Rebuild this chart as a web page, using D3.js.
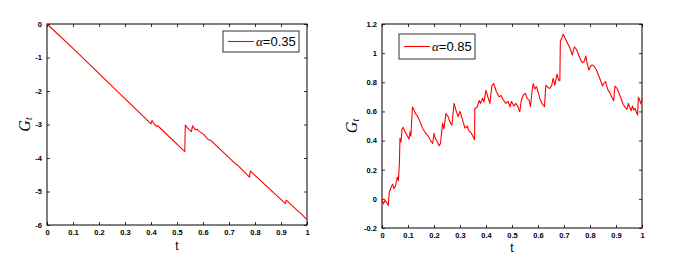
<!DOCTYPE html>
<html><head><meta charset="utf-8">
<script src="https://cdn.jsdelivr.net/npm/d3@7"></script>
<style>body{margin:0;background:#fff}svg{display:block}</style>
</head><body>
<svg id="c" width="674" height="259"></svg>
<script>
const xTicks = [0,0.1,0.2,0.3,0.4,0.5,0.6,0.7,0.8,0.9,1];
const yTicksLeft = [0,-1,-2,-3,-4,-5,-6];
const yTicksRight = [-0.2,0,0.2,0.4,0.6,0.8,1,1.2];
const legendLeft = "0.35";
const legendRight = "0.85";

const tLeft = [0,0.1,0.104,0.4,0.404,0.413,0.423,0.427,0.433,0.53,0.532,0.541,0.555,0.56,0.571,0.577,0.583,0.605,0.618,0.631,0.724,0.733,0.779,0.782,0.917,0.92,0.968,0.974,1.0];
const gLeft = [0,-0.725,-0.755,-2.98,-2.88,-3.0,-3.06,-3.04,-3.09,-3.81,-3.02,-3.11,-3.21,-3.04,-3.16,-3.14,-3.19,-3.31,-3.44,-3.48,-4.17,-4.21,-4.57,-4.39,-5.36,-5.26,-5.6,-5.64,-5.84];

const tRight = [0,0.005,0.0115,0.018,0.024,0.028,0.035,0.041,0.046,0.052,0.059,0.063,0.067,0.069,0.073,0.077,0.082,0.088,0.095,0.104,0.108,0.111,0.117,0.123,0.127,0.136,0.146,0.156,0.168,0.178,0.187,0.195,0.2,0.205,0.213,0.22,0.225,0.233,0.238,0.246,0.254,0.261,0.269,0.277,0.284,0.293,0.3,0.31,0.319,0.328,0.333,0.344,0.356,0.357,0.366,0.374,0.379,0.387,0.392,0.4,0.407,0.415,0.423,0.43,0.44,0.451,0.458,0.466,0.476,0.485,0.492,0.498,0.507,0.515,0.524,0.53,0.535,0.543,0.551,0.558,0.566,0.571,0.576,0.581,0.588,0.594,0.602,0.609,0.617,0.625,0.63,0.638,0.645,0.653,0.658,0.665,0.673,0.679,0.684,0.686,0.691,0.697,0.703,0.709,0.717,0.725,0.732,0.74,0.748,0.755,0.763,0.771,0.777,0.784,0.789,0.796,0.802,0.809,0.817,0.825,0.832,0.84,0.848,0.853,0.86,0.868,0.876,0.883,0.891,0.896,0.904,0.912,0.919,0.927,0.935,0.942,0.948,0.953,0.958,0.963,0.968,0.973,0.978,0.983,0.986,0.991,0.996,1.0];
const gRight = [0,-0.035,-0.01,-0.025,-0.045,0.045,0.08,0.1,0.07,0.09,0.15,0.125,0.245,0.415,0.39,0.48,0.49,0.46,0.44,0.41,0.46,0.43,0.63,0.61,0.59,0.57,0.53,0.485,0.45,0.43,0.4,0.38,0.45,0.415,0.39,0.365,0.38,0.52,0.48,0.585,0.565,0.53,0.505,0.655,0.61,0.565,0.6,0.54,0.485,0.5,0.47,0.45,0.405,0.62,0.63,0.675,0.655,0.69,0.665,0.745,0.7,0.655,0.78,0.79,0.735,0.7,0.71,0.68,0.655,0.668,0.632,0.668,0.637,0.655,0.628,0.598,0.668,0.713,0.724,0.69,0.678,0.632,0.72,0.79,0.754,0.77,0.724,0.678,0.65,0.633,0.78,0.765,0.758,0.78,0.827,0.78,0.857,0.816,0.81,1.085,1.1,1.13,1.108,1.085,1.056,1.025,0.987,1.044,1.025,0.994,0.957,0.935,0.941,0.98,0.93,0.884,0.912,0.919,0.907,0.884,0.85,0.816,0.774,0.793,0.804,0.752,0.729,0.7,0.674,0.774,0.758,0.724,0.69,0.651,0.628,0.614,0.655,0.628,0.605,0.637,0.61,0.621,0.598,0.575,0.697,0.678,0.651,0.69];

const svg = d3.select("#c");

function panel(o) {
  const g = svg.append("g");
  const x = d3.scaleLinear().domain([0,1]).range([o.x0, o.x1]);
  const y = d3.scaleLinear().domain(o.ydom).range([o.y1, o.y0]);
  const fmt = d => String(+d.toFixed(1));
  const tickStyle = sel => {
    sel.select(".domain").remove();
    sel.selectAll("line").attr("stroke","#000").attr("stroke-width",0.8);
    sel.selectAll("text").attr("font-family","Liberation Sans, Arial, sans-serif")
      .attr("font-size",7.5).attr("font-weight","bold").attr("fill","#000");
  };
  g.append("g").attr("transform",`translate(0,${o.y1})`)
    .call(d3.axisBottom(x).tickValues(xTicks).tickFormat(fmt).tickSizeInner(-3).tickSizeOuter(0).tickPadding(o.xpad))
    .call(tickStyle);
  g.append("g").attr("transform",`translate(0,${o.y0})`)
    .call(d3.axisTop(x).tickValues(xTicks).tickFormat("").tickSizeInner(-3).tickSizeOuter(0))
    .call(tickStyle);
  g.append("g").attr("transform",`translate(${o.x0},0)`)
    .call(d3.axisLeft(y).tickValues(o.yticks).tickFormat(fmt).tickSizeInner(-3).tickSizeOuter(0).tickPadding(5))
    .call(tickStyle);
  g.append("g").attr("transform",`translate(${o.x1},0)`)
    .call(d3.axisRight(y).tickValues(o.yticks).tickFormat("").tickSizeInner(-3).tickSizeOuter(0))
    .call(tickStyle);
  g.append("rect").attr("x",o.x0).attr("y",o.y0).attr("width",o.x1-o.x0).attr("height",o.y1-o.y0)
    .attr("fill","none").attr("stroke","#000").attr("stroke-width",1);

  g.append("path").datum(o.t.map((t,i)=>[t,o.v[i]]))
    .attr("d", d3.line().x(d=>x(d[0])).y(d=>y(d[1])))
    .attr("fill","none").attr("stroke","#ff0000").attr("stroke-width",1.1).attr("stroke-linejoin","round");

  // legend
  const L = o.leg;
  g.append("rect").attr("x",L.x).attr("y",L.y).attr("width",L.w).attr("height",L.h)
    .attr("fill","#fff").attr("stroke","#333").attr("stroke-width",1);
  g.append("line").attr("x1",L.x+5).attr("x2",L.x+31).attr("y1",L.y+L.h/2).attr("y2",L.y+L.h/2)
    .attr("stroke","#ff0000").attr("stroke-width",1.1);
  const tx = g.append("text").attr("x",L.x+33).attr("y",L.y+L.h/2+4.5)
    .attr("font-family","Liberation Sans, Arial, sans-serif").attr("font-size",13).attr("fill","#000");
  tx.append("tspan").attr("font-family","Liberation Serif, Times New Roman, serif").attr("font-style","italic").attr("font-size",13).text("α");
  tx.append("tspan").text("=" + L.label);

  // axis labels
  g.append("text").attr("x",(o.x0+o.x1)/2).attr("y",o.tY)
    .attr("text-anchor","middle").attr("font-family","Liberation Sans, Arial, sans-serif")
    .attr("font-size",12).attr("fill","#000").text("t");
  const yl = g.append("text").attr("transform",`translate(${o.gX},${(o.y0+o.y1)/2}) rotate(-90)`)
    .attr("text-anchor","middle").attr("font-family","Liberation Serif, Times New Roman, serif")
    .attr("font-style","italic").attr("font-size",16).attr("fill","#000");
  yl.append("tspan").text("G");
  yl.append("tspan").attr("font-size",10).attr("dy",2).text("t");
}

panel({x0:47,x1:307,y0:24,y1:225,ydom:[-6,0],yticks:yTicksLeft,t:tLeft,v:gLeft,xpad:5,tY:250,gX:30,
  leg:{x:223,y:31,w:76,h:21,label:legendLeft}});
panel({x0:382,x1:642,y0:24,y1:228,ydom:[-0.2,1.2],yticks:yTicksRight,t:tRight,v:gRight,xpad:5,tY:252,gX:357,
  leg:{x:399,y:34,w:76,h:25,label:legendRight}});
</script>
</body></html>
